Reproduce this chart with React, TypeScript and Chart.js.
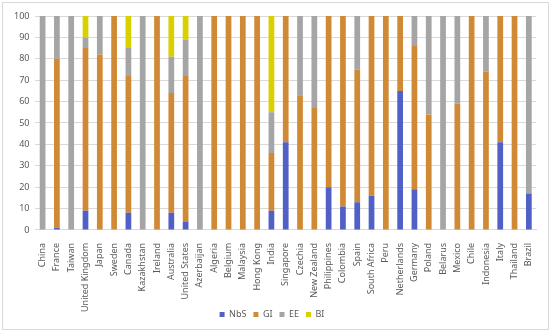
import React, { useEffect, useRef } from "react";
import { Chart, registerables } from "chart.js";

Chart.register(...registerables);

const categories = [
  "China", "France", "Taiwan", "United Kingdom", "Japan", "Sweden", "Canada",
  "Kazakhstan", "Ireland", "Australia", "United States", "Azerbaijan", "Algeria",
  "Belgium", "Malaysia", "Hong Kong", "India", "Singapore", "Czechia",
  "New Zealand", "Philippines", "Colombia", "Spain", "South Africa", "Peru",
  "Netherlands", "Germany", "Poland", "Belarus", "Mexico", "Chile", "Indonesia",
  "Italy", "Thailand", "Brazil",
];

const nbsValues = [0, 1, 0, 9, 0, 0, 8, 0, 0, 8, 4, 0, 0, 0, 0, 0, 9, 41, 0, 0, 20, 11, 13, 16, 0, 65, 19, 0, 0, 0, 0, 0, 41, 0, 17];
const giValues = [0, 79, 0, 76, 82, 100, 64, 0, 100, 56, 68, 0, 100, 100, 100, 100, 27, 59, 63, 57, 80, 89, 62, 84, 100, 35, 67, 54, 0, 59, 100, 74, 59, 100, 0];
const eeValues = [100, 20, 100, 5, 18, 0, 13, 100, 0, 17, 17, 100, 0, 0, 0, 0, 19, 0, 37, 43, 0, 0, 25, 0, 0, 0, 14, 46, 100, 41, 0, 26, 0, 0, 83];
const biValues = [0, 0, 0, 10, 0, 0, 15, 0, 0, 19, 11, 0, 0, 0, 0, 0, 45, 0, 0, 0, 0, 0, 0, 0, 0, 0, 0, 0, 0, 0, 0, 0, 0, 0, 0];

const yTicks = [0, 10, 20, 30, 40, 50, 60, 70, 80, 90, 100];

const FONT = "'Noto Sans', 'DejaVu Sans', sans-serif";

export default function App() {
  const ref = useRef<HTMLCanvasElement | null>(null);

  useEffect(() => {
    if (!ref.current) return;
    const mk = (label: string, data: number[], color: string) => ({
      label,
      data,
      backgroundColor: color,
      borderWidth: 0,
      barPercentage: 0.4,
      categoryPercentage: 1,
    });
    const chart = new Chart(ref.current, {
      type: "bar",
      data: {
        labels: categories,
        datasets: [
          mk("NbS", nbsValues, "#5060C6"),
          mk("GI", giValues, "#D08A36"),
          mk("EE", eeValues, "#A5A5A5"),
          mk("BI", biValues, "#D9D000"),
        ],
      },
      options: {
        responsive: false,
        animation: false,
        layout: { padding: { top: 16, right: 14, left: 8, bottom: 4 } },
        plugins: {
          tooltip: { enabled: false },
          legend: {
            position: "bottom",
            labels: {
              boxWidth: 5,
              boxHeight: 5,
              padding: 7,
              color: "#595959",
              font: { family: FONT, size: 9 },
            },
          },
        },
        scales: {
          x: {
            stacked: true,
            grid: { display: false },
            border: { display: true, color: "#D9D9D9" },
            afterFit: (s: any) => {
              s.height = s.height - 14;
              s._computeLabelArea = () => undefined;
            },
            ticks: {
              autoSkip: false,
              minRotation: 90,
              maxRotation: 90,
              padding: 5,
              color: "#595959",
              font: { family: FONT, size: 9 },
            },
          },
          y: {
            stacked: true,
            min: 0,
            max: 100,
            afterBuildTicks: (s: any) => {
              s.ticks = yTicks.map((v) => ({ value: v }));
            },
            grid: { color: "#D9D9D9", drawTicks: false },
            border: { display: false },
            ticks: {
              padding: 6,
              color: "#595959",
              font: { family: FONT, size: 9 },
            },
          },
        },
      },
    });
    return () => chart.destroy();
  }, []);

  return (
    <div style={{ position: "absolute", left: 0, top: 0, width: 550, height: 333, background: "#fff" }}>
      <canvas ref={ref} width={550} height={333} style={{ position: "absolute", left: 0, top: 0 }} />
      <div
        style={{
          position: "absolute",
          left: 2,
          top: 2,
          width: 545,
          height: 326,
          border: "1px solid #D9D9D9",
          pointerEvents: "none",
        }}
      />
    </div>
  );
}
